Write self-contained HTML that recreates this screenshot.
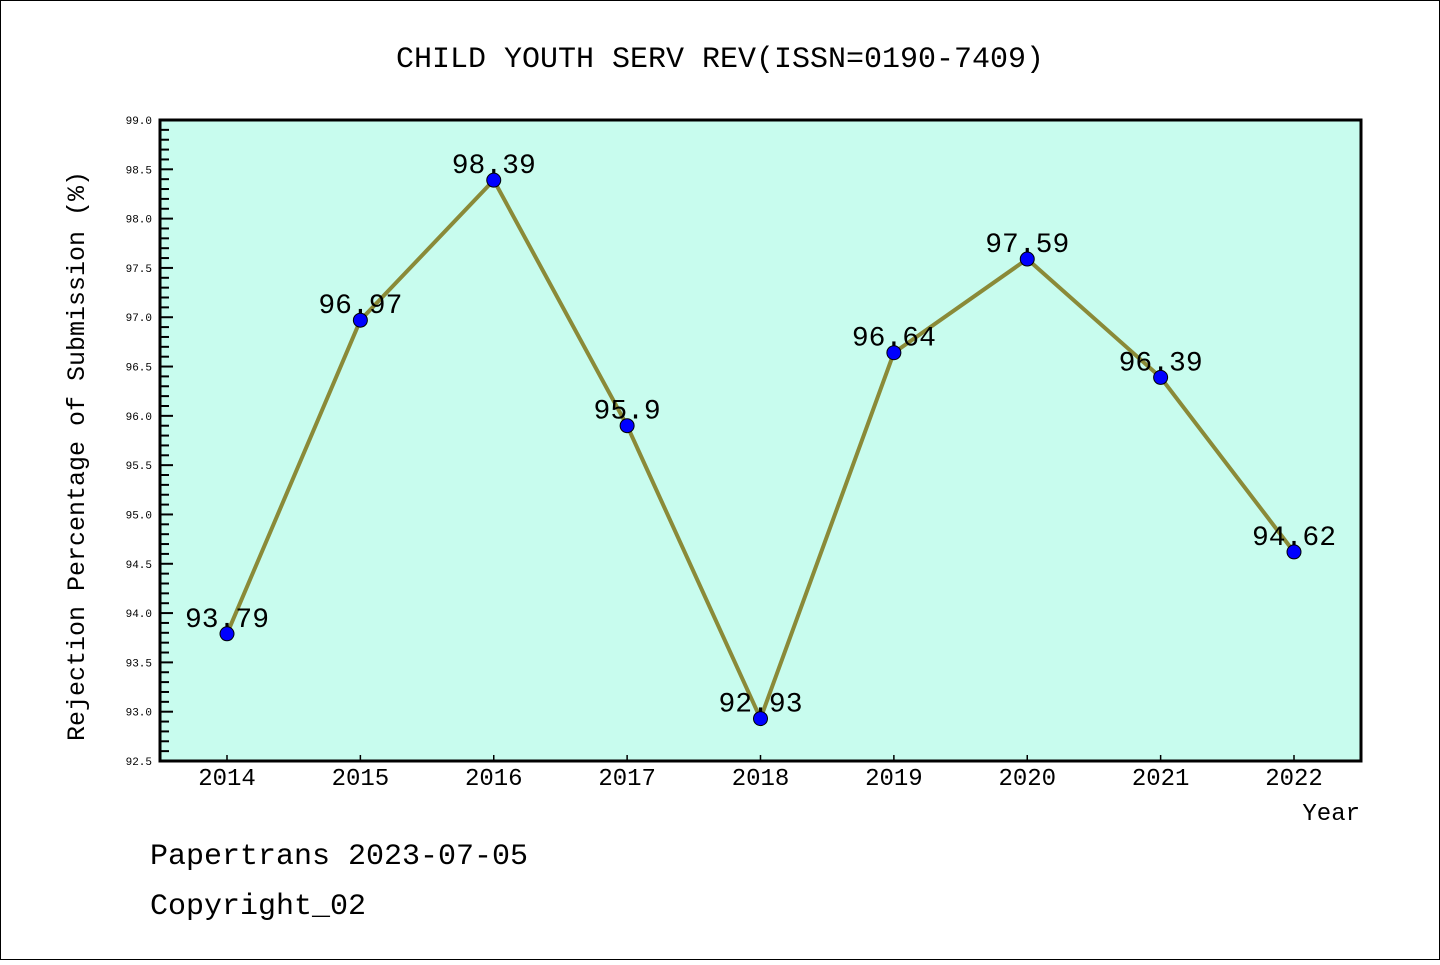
<!DOCTYPE html>
<html><head><meta charset="utf-8"><style>
html,body{margin:0;padding:0;background:#fff;}
svg text{font-family:"Liberation Mono","DejaVu Sans Mono","WenQuanYi Zen Hei",monospace;}
</style></head><body>
<svg width="1440" height="960" xmlns="http://www.w3.org/2000/svg" id="chart">
<rect x="0.5" y="0.5" width="1439" height="959" fill="#fff" stroke="#000"/>
<text x="720" y="67" font-size="30" text-anchor="middle">CHILD YOUTH SERV REV(ISSN=0190-7409)</text>
<rect x="160" y="120" width="1201" height="641" fill="#c8fcee"/>
<g id="yaxis"></g>
<g id="xaxis"></g>
<g id="series"></g>
<rect x="160" y="120" width="1201" height="641" fill="none" stroke="#000" stroke-width="3"/>
<text transform="translate(84,456) rotate(-90)" font-size="25" text-anchor="middle">Rejection Percentage of Submission (%)</text>
<text x="1360" y="820" font-size="24" text-anchor="end">Year</text>
<text x="150" y="864" font-size="30">Papertrans 2023-07-05</text>
<text x="150" y="914" font-size="30">Copyright_02</text>
</svg>
<script>
const years=["2014","2015","2016","2017","2018","2019","2020","2021","2022"];
const values=[93.79,96.97,98.39,95.9,92.93,96.64,97.59,96.39,94.62];
const valueLabels=["93.79","96.97","98.39","95.9","92.93","96.64","97.59","96.39","94.62"];
const yTicks=["92.5","93.0","93.5","94.0","94.5","95.0","95.5","96.0","96.5","97.0","97.5","98.0","98.5","99.0"];
const NS="http://www.w3.org/2000/svg";
const yMin=92.5,yMax=99.0,plotTop=120,plotBottom=761,plotLeft=160;
function ys(v){return plotBottom-(v-yMin)/(yMax-yMin)*(plotBottom-plotTop);}
function xs(i){return 227+i*(1294-227)/(years.length-1);}
function mk(t,a,p){const e=document.createElementNS(NS,t);for(const k in a)e.setAttribute(k,a[k]);p.appendChild(e);return e;}
const ya=document.getElementById('yaxis'),xa=document.getElementById('xaxis'),sg=document.getElementById('series');
for(let k=0;k<=65;k++){const v=yMin+k*0.1;const y=ys(v);const major=k%5===0;
 const l=mk('line',{x1:plotLeft,x2:plotLeft+(major?13:9),y1:y,y2:y,stroke:'#000','stroke-width':2},ya);
 
 }
yTicks.forEach(t=>{const y=ys(parseFloat(t));const e=mk('text',{x:152,y:y+4,'font-size':11,'text-anchor':'end'},ya);e.textContent=t;
 
 });
years.forEach((yr,i)=>{const x=xs(i);const l=mk('line',{x1:x,x2:x,y1:plotBottom,y2:plotBottom-6,stroke:'#000','stroke-width':1.5},xa);
 
 
 const t=mk('text',{x:x,y:785,'font-size':24,'text-anchor':'middle'},xa);t.textContent=yr;
 
 });
const pts=values.map((v,i)=>xs(i)+','+ys(v)).join(' ');
const pl=mk('polyline',{points:pts,fill:'none',stroke:'#8a8a38','stroke-width':4,'stroke-linejoin':'round'},sg);


values.forEach((v,i)=>{const c=mk('circle',{cx:xs(i),cy:ys(v),r:7,fill:'#0000ff',stroke:'#000','stroke-width':1},sg);
 
 
 const t=mk('text',{x:xs(i),y:ys(v)-7,'font-size':28,'text-anchor':'middle'},sg);t.textContent=valueLabels[i];
 
 });
</script>
</body></html>
